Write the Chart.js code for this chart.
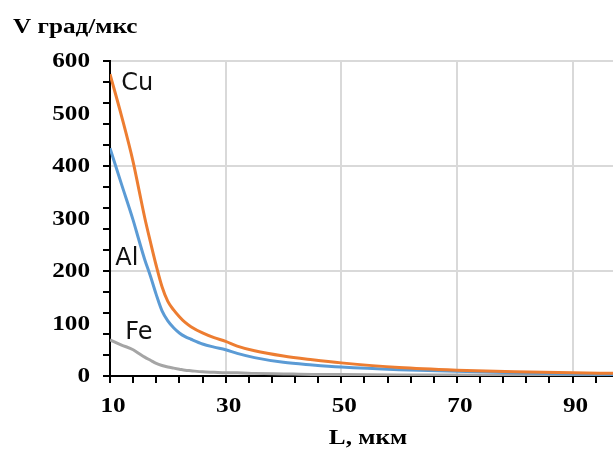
<!DOCTYPE html>
<html>
<head>
<meta charset="utf-8">
<script src="https://cdn.jsdelivr.net/npm/chart.js@4"></script>
<style>
  html, body { margin: 0; padding: 0; background: #fff; }
  #wrap { width: 613px; height: 457px; position: relative; }
</style>
</head>
<body>
<div id="wrap"><canvas id="chart"></canvas></div>
<script>
// L, мкм
const lengths = [10, 12, 14, 15, 16, 17, 18, 19, 20, 21, 22, 23, 24, 26, 28, 30, 32, 35, 40, 45, 50, 60, 70, 80, 90, 97];
// V, град/мкс
const cuValues = [575, 495, 408, 355, 302, 255, 210, 170, 142, 126, 113, 102, 94, 82, 73, 66, 57, 48, 38, 31, 25, 16, 11, 8, 6, 5];
const alValues = [434, 365, 297, 259, 222, 190, 155, 124, 105, 92, 82, 75, 70, 61, 55, 50, 43, 35, 26, 21, 17, 12, 9, 6, 4, 3];
const feValues = [69, 59, 50, 43, 36, 30, 24, 20, 17, 15, 13, 11, 10, 8, 7, 6, 6, 5, 4, 3, 3, 2, 2, 1, 1, 1];

const xTicks = [10, 14, 18, 22, 26, 30, 34, 38, 42, 46, 50, 54, 58, 62, 66, 70, 74, 78, 82, 86, 90, 94];
const xLabels = [10, 30, 50, 70, 90];
const yTicks = [];
for (let v = 0; v <= 600; v += 20) yTicks.push(v);
const yLabels = [0, 100, 200, 300, 400, 500, 600];

const seriesNames = ["Cu", "Al", "Fe"];
const seriesColors = ["#ED7D31", "#5B9BD5", "#A5A5A5"];
// where the series names sit, in data units
const nameX = [14.7, 12.9, 15.0];
const nameY = [556, 223, 82];

function points(values) {
    return lengths.map(function (l, i) {
        return { x: l, y: values[i] };
    });
}

// the scanned captions are horizontally stretched, so draw them that way
function wideText(ctx, text, x, y, align, font, sx) {
    ctx.save();
    ctx.translate(x, y);
    ctx.scale(sx, 1);
    ctx.font = font;
    ctx.textAlign = align;
    ctx.textBaseline = "middle";
    ctx.fillText(text, 0, 0);
    ctx.restore();
}

const captions = {
    id: "captions",
    afterDraw: function (chart) {
        const ctx = chart.ctx;
        const xs = chart.scales.x;
        const ys = chart.scales.y;
        const serif = "bold 21px 'Liberation Serif', 'Times New Roman', serif";
        const sx = 1.2;
        ctx.save();
        ctx.fillStyle = "#000";

        yLabels.forEach(function (v) {
            wideText(ctx, String(v), ys.right - 20, ys.getPixelForValue(v) + 1, "right", serif, sx);
        });
        xLabels.forEach(function (v) {
            wideText(ctx, String(v), xs.getPixelForValue(v) + 3, 407, "center", serif, sx);
        });
        wideText(ctx, "L, мкм", 368, 439, "center", serif, sx);
        wideText(ctx, "V град/мкс", 13, 28, "left", serif, sx);

        ctx.fillStyle = "#111";
        seriesNames.forEach(function (name, i) {
            ctx.font = "24px 'DejaVu Sans', Verdana, sans-serif";
            ctx.textAlign = "center";
            ctx.textBaseline = "middle";
            ctx.fillText(name, xs.getPixelForValue(nameX[i]), ys.getPixelForValue(nameY[i]));
        });
        ctx.restore();
    },
};

new Chart(document.getElementById("chart"), {
    type: "line",
    data: {
        datasets: [cuValues, alValues, feValues].map(function (vals, i) {
            return {
                label: seriesNames[i],
                data: points(vals),
                borderColor: seriesColors[i],
                backgroundColor: seriesColors[i],
                borderWidth: 3,
                pointRadius: 0,
                cubicInterpolationMode: "monotone",
                fill: false,
            };
        }),
    },
    options: {
        animation: false,
        responsive: true,
        maintainAspectRatio: false,
        layout: { padding: { top: 61, left: 0, right: 0, bottom: 0 } },
        plugins: {
            legend: { display: false },
            tooltip: { enabled: false },
        },
        scales: {
            x: {
                type: "linear",
                min: 10,
                max: 97,
                afterBuildTicks: function (scale) {
                    scale.ticks = xTicks.map(function (v) { return { value: v }; });
                },
                afterFit: function (scale) { scale.height = 81; },
                ticks: { callback: function () { return ""; } },
                grid: {
                    color: function (c) {
                        const v = c.tick ? c.tick.value : 0;
                        return (v - 10) % 20 === 0 && v !== 10 ? "#d9d9d9" : "rgba(0,0,0,0)";
                    },
                    lineWidth: 2,
                    tickColor: "#000",
                    tickWidth: 2,
                    tickLength: 7,
                },
                border: { color: "#000", width: 2 },
            },
            y: {
                min: 0,
                max: 600,
                afterBuildTicks: function (scale) {
                    scale.ticks = yTicks.map(function (v) { return { value: v }; });
                },
                afterFit: function (scale) { scale.width = 110; },
                ticks: { callback: function () { return ""; } },
                grid: {
                    color: function (c) {
                        const v = c.tick ? c.tick.value : 0;
                        return v % 100 === 0 && v !== 0 ? "#d9d9d9" : "rgba(0,0,0,0)";
                    },
                    lineWidth: 2,
                    tickColor: "#000",
                    tickWidth: 2,
                    tickLength: 7,
                },
                border: { color: "#000", width: 2 },
            },
        },
    },
    plugins: [captions],
});
</script>
</body>
</html>
